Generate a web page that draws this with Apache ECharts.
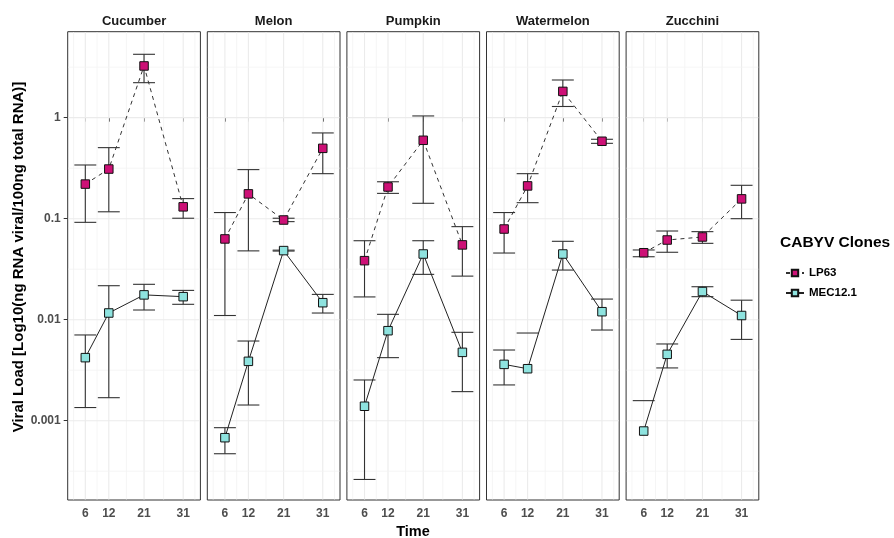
<!DOCTYPE html>
<html>
<head>
<meta charset="utf-8">
<title>CABYV viral load</title>
<script src="https://cdn.jsdelivr.net/npm/echarts@6.0.0/dist/echarts.min.js"></script>
<style>
  html, body { margin: 0; padding: 0; background: #fff; }
  #main { width: 894px; height: 538px; }
</style>
</head>
<body>
<div id="main"></div>
<script>
// facets and axis values
var hosts = ['Cucumber', 'Melon', 'Pumpkin', 'Watermelon', 'Zucchini'];
var times = [6, 12, 21, 31];
var yTicks = [0.001, 0.01, 0.1, 1];

// LP63 clone: mean and error bar ends, one row per host
var lp63Mean = [
    [0.22, 0.31, 3.25, 0.131],
    [0.063, 0.176, 0.097, 0.497],
    [0.0384, 0.206, 0.597, 0.055],
    [0.079, 0.211, 1.82, 0.584],
    [0.046, 0.0615, 0.0659, 0.157]
];
var lp63Low = [
    [0.092, 0.117, 2.22, 0.101],
    [0.011, 0.048, 0.0935, 0.279],
    [0.0168, 0.178, 0.142, 0.027],
    [0.0457, 0.144, 1.29, 0.557],
    [0.042, 0.0465, 0.057, 0.100]
];
var lp63High = [
    [0.34, 0.505, 4.24, 0.158],
    [0.115, 0.306, 0.101, 0.706],
    [0.0605, 0.232, 1.04, 0.0834],
    [0.115, 0.279, 2.36, 0.611],
    [0.049, 0.0755, 0.0744, 0.214]
];

// MEC12.1 clone (null = lower end not drawn on the log scale)
var mecMean = [
    [0.00421, 0.01165, 0.0176, 0.0169],
    [0.000679, 0.00387, 0.0483, 0.01473],
    [0.00139, 0.00778, 0.0447, 0.00475],
    [0.00361, 0.00327, 0.0447, 0.012],
    [0.00079, 0.00454, 0.019, 0.011]
];
var mecLow = [
    [0.00135, 0.00169, 0.01247, 0.0142],
    [0.000471, 0.00143, 0.0478, 0.01164],
    [0.000262, 0.00421, 0.0281, 0.00194],
    [0.00226, null, 0.031, 0.0079],
    [null, 0.00333, 0.0169, 0.00638]
];
var mecHigh = [
    [0.00706, 0.0217, 0.0224, 0.0195],
    [0.000853, 0.00615, 0.0488, 0.0178],
    [0.00253, 0.0113, 0.0605, 0.0075],
    [0.00501, 0.00738, 0.0597, 0.016],
    [0.00158, 0.00575, 0.0212, 0.0156]
];

var FONT = '"Liberation Sans", Arial, sans-serif';
var panelLeft = 67.7, panelStep = 139.6, panelW = 132.7;
var panelTop = 31.7, panelH = 468.3;
var xMin = 1.5, xMax = 35.4;
var yMin = -3.785, yMax = 0.851;   // log10 units
var capHalf = 2.8;

function lg(v) { return v == null ? null : Math.log10(v); }

// gridlines: major at the ticks, minor half way between (ggplot style)
var xMinor = [3, 9, 16.5, 26, 34];
var yMajorLog = yTicks.map(lg);
var yMinorLog = [-3.5, -2.5, -1.5, -0.5, 0.5];
var gridData = [];
times.forEach(function (t) { gridData.push([0, t, 1]); });
xMinor.forEach(function (t) { gridData.push([0, t, 0]); });
yMajorLog.forEach(function (v) { gridData.push([1, v, 1]); });
yMinorLog.forEach(function (v) { gridData.push([1, v, 0]); });

function renderGrid(params, api) {
    var kind = api.value(0), v = api.value(1), major = api.value(2);
    var cs = params.coordSys;
    var shape;
    if (kind === 0) {
        var x = api.coord([v, 0])[0];
        shape = { x1: x, y1: cs.y + 0.5, x2: x, y2: cs.y + cs.height - 0.5 };
    } else {
        var y = api.coord([xMin, v])[1];
        shape = { x1: cs.x + 0.5, y1: y, x2: cs.x + cs.width - 0.5, y2: y };
    }
    return {
        type: 'line', shape: shape, silent: true,
        style: { stroke: major ? '#EBEBEB' : '#F2F2F2', lineWidth: major ? 1.1 : 0.8 }
    };
}

function renderErr(params, api) {
    var x = api.value(0), lo = api.value(1), hi = api.value(2);
    var top = api.coord([x, hi]);
    var l = api.coord([x - capHalf, hi])[0];
    var r = api.coord([x + capHalf, hi])[0];
    var st = { stroke: '#333', lineWidth: 1.1 };
    var kids = [{ type: 'line', shape: { x1: l, y1: top[1], x2: r, y2: top[1] }, style: st }];
    if (!isNaN(lo) && lo != null) {
        var bot = api.coord([x, lo]);
        kids.push({ type: 'line', shape: { x1: l, y1: bot[1], x2: r, y2: bot[1] }, style: st });
        kids.push({ type: 'line', shape: { x1: top[0], y1: top[1], x2: top[0], y2: bot[1] }, style: st });
    }
    return { type: 'group', children: kids };
}

var grids = [], xAxes = [], yAxes = [], series = [], graphics = [];

hosts.forEach(function (host, i) {
    var left = panelLeft + i * panelStep;
    grids.push({
        left: left, top: panelTop, width: panelW, height: panelH,
        show: true, backgroundColor: '#fff', borderColor: '#333', borderWidth: 1,
        containLabel: false, outerBoundsMode: 'none'
    });
    xAxes.push({
        type: 'value', gridIndex: i, min: xMin, max: xMax,
        axisLine: { show: false },
        splitLine: { show: false },
        axisTick: { show: true, customValues: times, length: 4, lineStyle: { color: '#333', width: 1 } },
        axisLabel: {
            customValues: times, margin: 8, color: '#4D4D4D',
            fontSize: 12, fontWeight: 'bold', fontFamily: FONT
        }
    });
    yAxes.push({
        type: 'value', gridIndex: i, min: yMin, max: yMax,
        axisLine: { show: false },
        splitLine: { show: false },
        axisTick: { show: i === 0, customValues: yMajorLog, length: 4, lineStyle: { color: '#333', width: 1 } },
        axisLabel: {
            show: i === 0, customValues: yMajorLog, margin: 7, color: '#4D4D4D',
            fontSize: 12, fontWeight: 'bold', fontFamily: FONT,
            formatter: function (v) { return String(parseFloat(Math.pow(10, v).toPrecision(1))); }
        }
    });

    series.push({
        type: 'custom', xAxisIndex: i, yAxisIndex: i, silent: true, z: 1,
        renderItem: renderGrid, data: gridData
    });
    series.push({
        type: 'custom', xAxisIndex: i, yAxisIndex: i, silent: true, z: 2,
        renderItem: renderErr,
        data: times.map(function (t, j) { return [t, lg(lp63Low[i][j]), lg(lp63High[i][j])]; })
    });
    series.push({
        type: 'custom', xAxisIndex: i, yAxisIndex: i, silent: true, z: 2,
        renderItem: renderErr,
        data: times.map(function (t, j) { return [t, lg(mecLow[i][j]), lg(mecHigh[i][j])]; })
    });
    series.push({
        name: 'LP63', type: 'line', xAxisIndex: i, yAxisIndex: i, z: 4,
        data: times.map(function (t, j) { return [t, lg(lp63Mean[i][j])]; }),
        symbol: 'rect', symbolSize: 8.5,
        lineStyle: { color: '#333', width: 1, type: [4, 4] },
        itemStyle: { color: '#CD1076', borderColor: '#111', borderWidth: 1 }
    });
    series.push({
        name: 'MEC12.1', type: 'line', xAxisIndex: i, yAxisIndex: i, z: 4,
        data: times.map(function (t, j) { return [t, lg(mecMean[i][j])]; }),
        symbol: 'rect', symbolSize: 8.5,
        lineStyle: { color: '#222', width: 1 },
        itemStyle: { color: '#8EE3DF', borderColor: '#111', borderWidth: 1 }
    });

    graphics.push({
        type: 'text', x: left + panelW / 2, y: 21.5,
        style: {
            text: host, fill: '#1A1A1A', font: 'bold 13px ' + FONT,
            textAlign: 'center', textVerticalAlign: 'middle'
        }
    });
});

graphics.push({
    type: 'text', x: 19, y: 257, rotation: Math.PI / 2,
    style: {
        text: 'Viral Load [Log10(ng RNA viral/100ng total RNA)]', fill: '#000',
        font: 'bold 15px ' + FONT, textAlign: 'center', textVerticalAlign: 'middle'
    }
});
graphics.push({
    type: 'text', x: 413, y: 532,
    style: { text: 'Time', fill: '#000', font: 'bold 14.5px ' + FONT, textAlign: 'center', textVerticalAlign: 'middle' }
});
graphics.push({
    type: 'text', x: 780, y: 243,
    style: { text: 'CABYV Clones', fill: '#000', font: 'bold 15.5px ' + FONT, textAlign: 'left', textVerticalAlign: 'middle' }
});

var myChart = echarts.init(document.getElementById('main'), null, { renderer: 'canvas' });
var option = {
    animation: false,
    backgroundColor: '#fff',
    grid: grids,
    xAxis: xAxes,
    yAxis: yAxes,
    legend: {
        data: ['LP63', 'MEC12.1'],
        orient: 'vertical', left: 780, top: 262,
        itemWidth: 18, itemHeight: 8, itemGap: 8,
        textStyle: { fontSize: 11.5, fontWeight: 'bold', color: '#000', fontFamily: FONT }
    },
    graphic: graphics,
    series: series
};
myChart.setOption(option);
</script>
</body>
</html>
